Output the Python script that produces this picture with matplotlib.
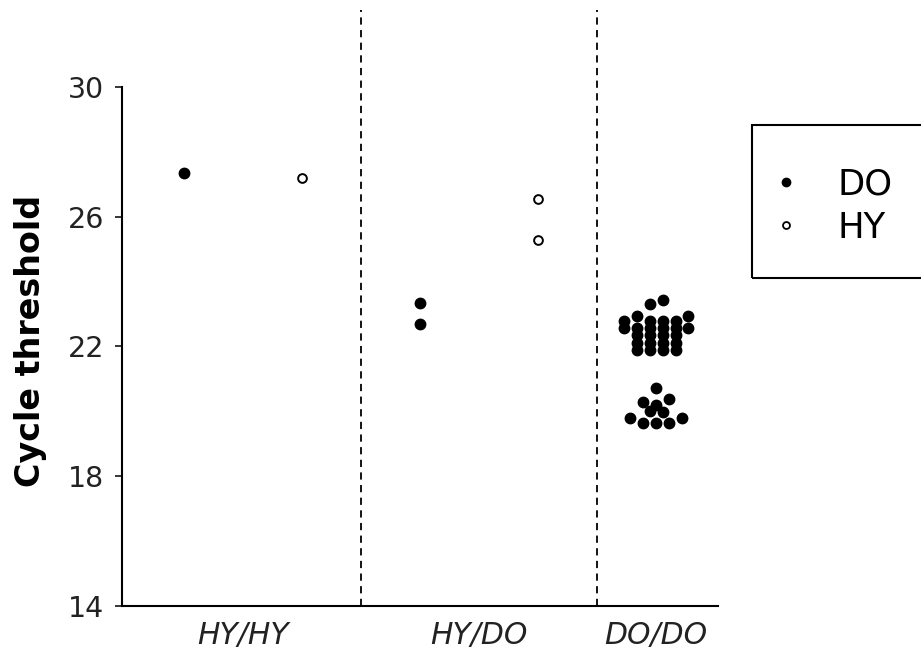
import numpy as np
import matplotlib
matplotlib.use("Agg")
import matplotlib.pyplot as plt
from matplotlib.patches import Rectangle

plt.rcParams["font.family"] = ["DejaVu Sans"]

# genotype groups and Ct values per allele
groups = ["HY/HY", "HY/DO", "DO/DO"]
hyhy_do = [27.35]
hyhy_hy = [27.2]
hydo_do = [23.33, 22.69]
hydo_hy = [26.54, 25.28]
dodo_do = [19.80, 19.63, 19.63, 19.63, 19.78,
           20.0, 19.97,
           20.28, 20.19, 20.37,
           20.71,
           21.88, 21.88, 21.88, 21.88,
           22.12, 22.12, 22.12, 22.12,
           22.35, 22.35, 22.35, 22.35,
           22.57, 22.57, 22.57, 22.57, 22.57, 22.57,
           22.78, 22.95, 22.78, 22.78, 22.78, 22.95,
           23.30, 23.43]
yticks = [14, 18, 22, 26, 30]


def spread(vals, center, step=0.11, tol=0.2):
    # prism-like column scatter: close values share a row, rows are centred
    vals = np.asarray(vals, dtype=float)
    order = np.argsort(vals, kind="stable")
    rows = []
    start = None
    for i in order:
        if start is None or vals[i] - start > tol:
            rows.append([i])
            start = vals[i]
        else:
            rows[-1].append(i)
    x = np.empty(len(vals))
    for r in rows:
        r = sorted(r)
        n = len(r)
        for k, i in enumerate(r):
            x[i] = center + (k - (n - 1) / 2) * step
    return x, vals


fig = plt.figure(figsize=(9.21, 6.56), dpi=100)
ax = fig.add_axes([122 / 921, 50 / 656, 596 / 921, 596 / 656])

do_kw = dict(ls="none", marker="o", ms=7.5, mfc="black", mec="black")
hy_kw = dict(ls="none", marker="o", ms=6.3, mfc="white", mec="black", mew=1.4)

series = [(hyhy_do, 0, do_kw), (hyhy_hy, 1, hy_kw),
          (hydo_do, 2, do_kw), (hydo_hy, 3, hy_kw),
          (dodo_do, 4, do_kw)]
for vals, col, kw in series:
    x, y = spread(vals, col)
    ax.plot(x, y, clip_on=False, **kw)

for xv in [1.5, 3.5]:
    ax.axvline(xv, color="black", lw=1.3, ls=(0, (4, 3)))

ax.set_xlim(-0.525, 4.525)
ax.set_ylim(14, 14 + 596 / 32.44)
ax.spines["top"].set_visible(False)
ax.spines["right"].set_visible(False)
ax.spines["left"].set_bounds(14, 30)
ax.spines["left"].set_linewidth(1.5)
ax.spines["bottom"].set_linewidth(1.5)

ax.set_yticks(yticks)
ax.set_yticklabels([str(t) for t in yticks], fontsize=20.5, color="#222222")
ax.tick_params(axis="y", direction="out", length=5, width=1.1, pad=8)
ax.set_xticks([0.5, 2.5, 4])
ax.set_xticklabels(groups, fontsize=21.5, style="italic", color="#222222")
ax.tick_params(axis="x", length=0, pad=11)

ax.set_ylabel("Cycle threshold", fontsize=24, fontweight="bold")
ax.yaxis.set_label_coords(-0.126, (606 - 341) / 596)

# legend with a square frame running off the right edge
fig.patches.append(Rectangle((752 / 921, 1 - 278 / 656), 200 / 921, 153 / 656,
                             transform=fig.transFigure, fill=False,
                             ec="black", lw=1.5))
h_do, = ax.plot([], [], ls="none", marker="o", ms=6, mfc="black", mec="black")
h_hy, = ax.plot([], [], ls="none", marker="o", ms=5, mfc="white", mec="black", mew=1.3)
fig.legend([h_do, h_hy], ["DO", "HY"], loc="center left",
           bbox_to_anchor=(765 / 921, 1 - 206 / 656), frameon=False,
           fontsize=25.5, handlelength=0.8, handletextpad=1.05, labelspacing=0.27,
           borderpad=0.2, borderaxespad=0)

fig.savefig("out.png", dpi=100)
